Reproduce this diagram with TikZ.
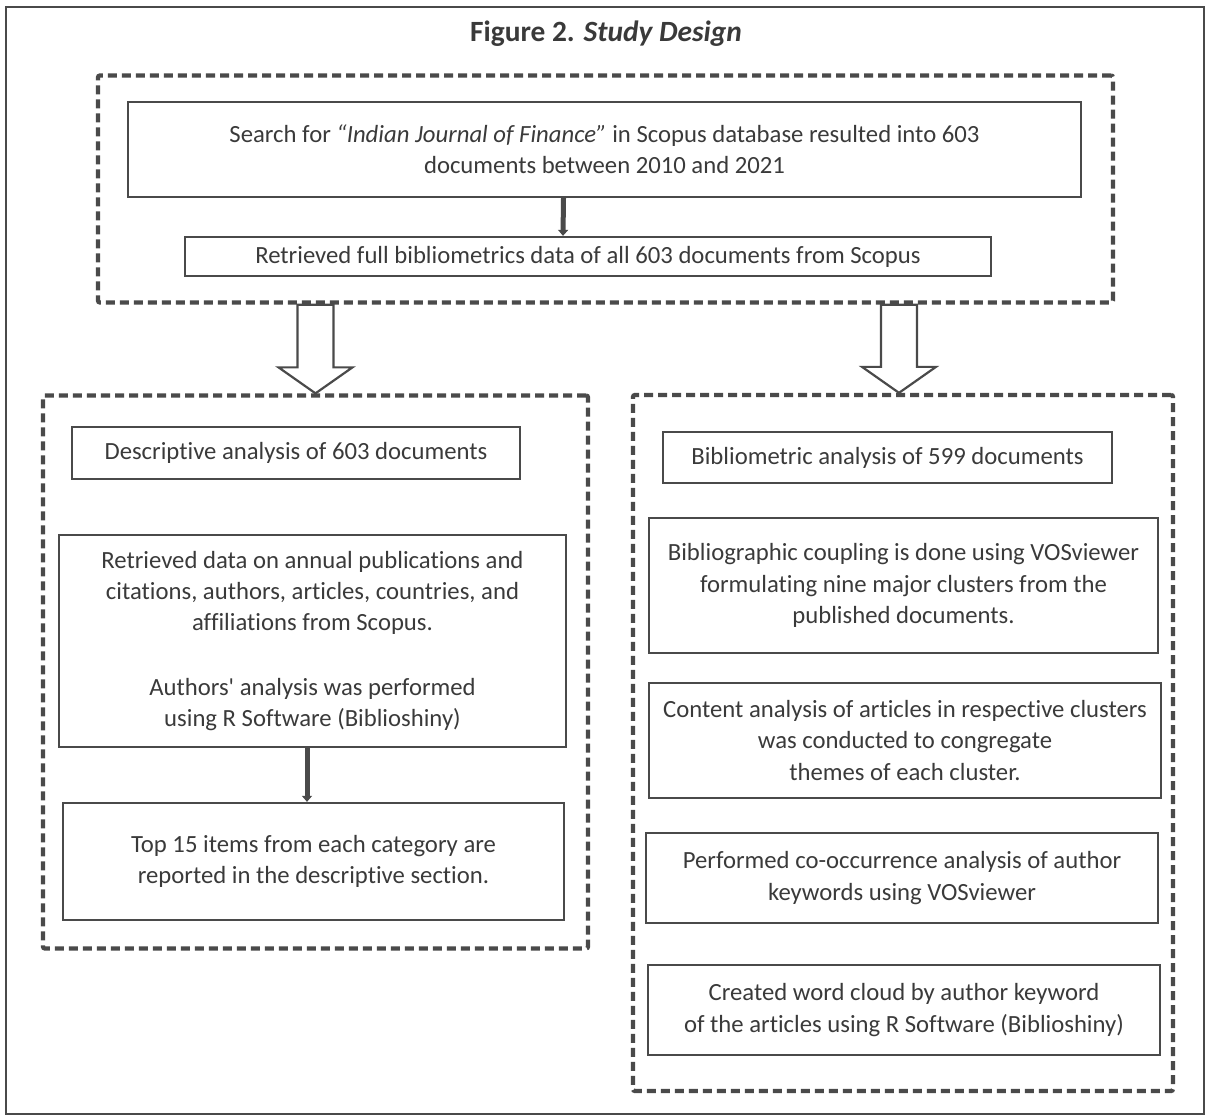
\documentclass[tikz,border=0pt]{standalone}
\usepackage{fontspec}
\setmainfont{Carlito}[Ligatures={TeXOff,CommonOff}]
\usetikzlibrary{arrows.meta,calc,backgrounds}
\definecolor{ink}{HTML}{3A3A3A}
\definecolor{edge}{HTML}{4A4A4A}
\begin{document}
\begin{tikzpicture}[x=1bp,y=-1bp,
  box/.style={draw=edge, line width=2.3bp, text=ink, align=center, inner sep=0pt,
    font=\fontsize{24.8}{31.5}\selectfont},
  group/.style={draw=edge, line width=4.3bp, dash pattern=on 9bp off 5bp, rounded corners=2bp, inner sep=0pt},
  flow/.style={draw=edge, line width=5bp, -{Triangle[width=10bp,length=6bp]}},
  hollow/.style={draw=edge, line width=2.2bp, fill=white, line join=miter},
  frame/.style={draw=edge, line width=2bp}]
\useasboundingbox (0,0) rectangle (1207,1118);
\draw[frame] (6,7) rectangle (1204,1114);

\node[text=ink, font=\fontsize{29.5}{33}\selectfont\bfseries] (title) at (606,34) {Figure 2. \textit{Study Design}};

% groups
\node[group, minimum width=1015bp, minimum height=227bp] (dt) at (605.5,189) {};
\node[group, minimum width=545bp, minimum height=553bp] (dl) at (315.5,672) {};
\node[group, minimum width=540bp, minimum height=696bp] (dr) at (903,743) {};

% boxes
\node[box, minimum width=953bp, minimum height=95bp] (search) at (604.5,149.5)
  {Search for \textit{“Indian Journal of Finance”} in Scopus database resulted into 603\\documents between 2010 and 2021};
\node[box, minimum width=806bp, minimum height=39bp] (retr) at (588,256.5)
  {Retrieved full bibliometrics data of all 603 documents from Scopus};

\node[box, minimum width=448bp, minimum height=52bp] (desc) at (296,453)
  {Descriptive analysis of 603 documents};
\node[box, minimum width=507bp, minimum height=212bp] (data) at (312.5,641)
  {Retrieved data on annual publications and\\citations, authors, articles, countries, and\\affiliations from Scopus.\\[33bp]Authors' analysis was performed\\using R Software (Biblioshiny)};
\node[box, minimum width=501bp, minimum height=117bp] (top15) at (313.5,861.5)
  {Top 15 items from each category are\\reported in the descriptive section.};

\node[box, minimum width=449bp, minimum height=51bp] (biblio) at (887.5,457.5)
  {Bibliometric analysis of 599 documents};
\node[box, minimum width=509bp, minimum height=135bp] (coupling) at (903.5,585.5)
  {Bibliographic coupling is done using VOSviewer\\formulating nine major clusters from the\\published documents.};
\node[box, minimum width=512bp, minimum height=115bp] (content) at (905,740.5)
  {Content analysis of articles in respective clusters\\was conducted to congregate\\themes of each cluster.};
\node[box, minimum width=512bp, minimum height=90bp] (perf) at (902,878)
  {Performed co-occurrence analysis of author\\keywords using VOSviewer};
\node[box, minimum width=512bp, minimum height=90bp] (cloud) at (904,1010)
  {Created word cloud by author keyword\\of the articles using R Software (Biblioshiny)};

% small arrows
\draw[flow] ($(search.south)+(-41,0)$) -- ($(retr.north)+(-25,0)$);
\draw[flow] ($(data.south)+(-5.5,0)$) -- ($(top15.north)+(-6.5,0)$);

% block arrows
\begin{pgfonlayer}{background}
\coordinate (ltip) at (dl.north);
\draw[hollow] (ltip) -- ++(-37,-26) -- ++(19,0) -- ($(ltip|-dt.south)+(-18,0)$)
  -- ($(ltip|-dt.south)+(18,0)$) -- ($(ltip)+(18,-26)$) -- ++(19,0) -- cycle;
\coordinate (rtip) at ($(dr.north)+(-4,0)$);
\draw[hollow] (rtip) -- ++(-37,-26) -- ++(19,0) -- ($(rtip|-dt.south)+(-18,0)$)
  -- ($(rtip|-dt.south)+(18,0)$) -- ($(rtip)+(18,-26)$) -- ++(19,0) -- cycle;
\end{pgfonlayer}
\end{tikzpicture}
\end{document}
